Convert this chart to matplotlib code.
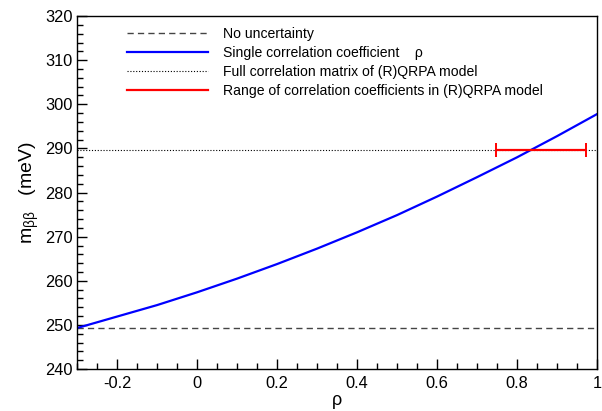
import matplotlib
matplotlib.use('Agg')
import matplotlib.pyplot as plt
from matplotlib.lines import Line2D
from matplotlib.ticker import MultipleLocator

plt.rcParams['font.family'] = ['Liberation Sans', 'DejaVu Sans']
plt.rcParams['mathtext.fontset'] = 'custom'
plt.rcParams['mathtext.rm'] = 'Liberation Sans'
plt.rcParams['mathtext.it'] = 'Liberation Sans'

# single correlation coefficient curve
rho = [-0.3, -0.2, -0.1, 0.0, 0.1, 0.2, 0.3, 0.4, 0.5, 0.6, 0.7, 0.8, 0.9, 1.0]
m_bb = [249.3, 251.9, 254.5, 257.4, 260.5, 263.8, 267.3, 271.0, 274.9, 279.1,
        283.5, 288.0, 292.8, 297.8]

m_no_unc = 249.2      # no uncertainty
m_full = 289.6        # full correlation matrix
rho_range = [0.747, 0.973]   # range of correlation coeffs in (R)QRPA

fig = plt.figure(figsize=(6.02, 4.11), dpi=100)
ax = fig.add_axes([0.128, 0.102, 0.864, 0.859])

ax.axhline(m_no_unc, color='#444444', lw=1.0, ls=(0, (4.5, 3)))
ax.plot(rho, m_bb, color='blue', lw=1.6)
ax.axhline(m_full, color='black', lw=0.8, ls=(0, (1, 1.6)))
ax.errorbar([(rho_range[0] + rho_range[1]) / 2], [m_full],
            xerr=[(rho_range[1] - rho_range[0]) / 2], fmt='none',
            ecolor='red', elinewidth=1.6, capsize=4.7, capthick=1.4)

ax.set_xlim(-0.3, 1.0)
ax.set_ylim(240, 320)
ax.xaxis.set_major_locator(MultipleLocator(0.2))
ax.xaxis.set_minor_locator(MultipleLocator(0.05))
ax.yaxis.set_major_locator(MultipleLocator(10))
ax.yaxis.set_minor_locator(MultipleLocator(2))
ax.xaxis.set_major_formatter(matplotlib.ticker.FuncFormatter(lambda v, p: '%g' % round(v, 2)))
ax.tick_params(which='both', direction='in', top=False, right=False, labelsize=11.8, width=1.0)
ax.tick_params(which='major', length=7)
ax.tick_params(which='minor', length=4)
ax.tick_params(axis='x', pad=5)
ax.tick_params(axis='y', pad=3)
for s in ax.spines.values():
    s.set_linewidth(1.0)

ax.set_xlabel('ρ', fontsize=13, labelpad=1)
ax.set_ylabel(r'm$_{\beta\beta}$   (meV)', fontsize=14, labelpad=3)

handles = [
    Line2D([], [], color='#444444', lw=1.0, ls=(0, (4.5, 3))),
    Line2D([], [], color='blue', lw=1.6),
    Line2D([], [], color='black', lw=0.8, ls=(0, (1, 1.6))),
    Line2D([], [], color='red', lw=1.6),
]
labels = ['No uncertainty',
          'Single correlation coefficient    ρ',
          'Full correlation matrix of (R)QRPA model',
          'Range of correlation coefficients in (R)QRPA model']
ax.legend(handles, labels, loc='upper left', bbox_to_anchor=(0.085, 0.985),
          frameon=False, fontsize=10.1, handlelength=5.75, handletextpad=1.1,
          labelspacing=0.36, borderaxespad=0)

fig.savefig('out.png', dpi=100)
